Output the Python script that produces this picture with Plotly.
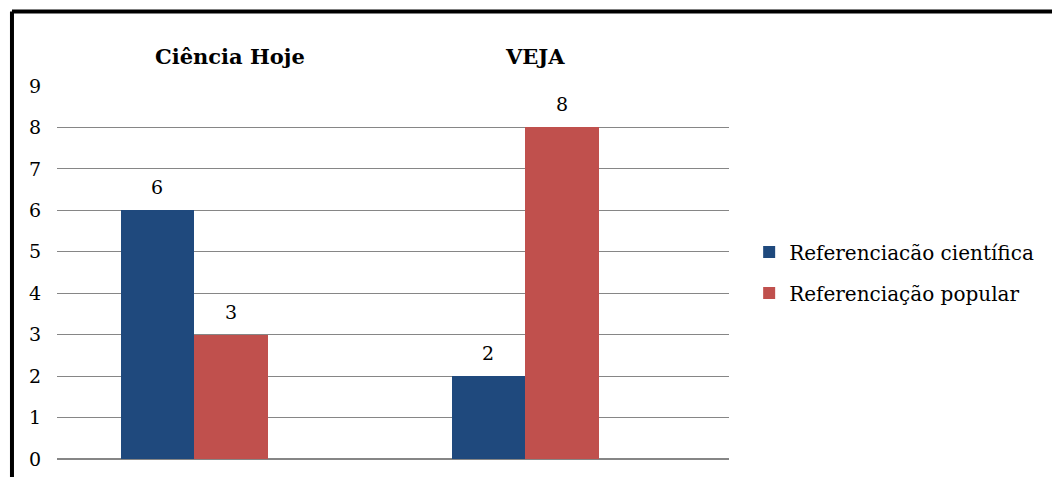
import plotly.graph_objects as go

categories = ["Ciência Hoje", "VEJA"]
series_names = ["Referenciacão científica", "Referenciação popular"]
cientifica = [6, 2]
popular = [3, 8]
y_ticks = [0, 1, 2, 3, 4, 5, 6, 7, 8, 9]

colors = ["#1F497D", "#C0504D"]
FONT = "DejaVu Serif"
bar_w = 0.222
xs = list(range(len(categories)))

fig = go.Figure()
for i, (name, vals, col, off) in enumerate([(series_names[0], cientifica, colors[0], -bar_w),
                                            (series_names[1], popular, colors[1], 0.0)]):
    fig.add_trace(go.Bar(
        x=xs, y=vals, name=name, marker=dict(color=col, line=dict(width=0)),
        width=bar_w, offset=off, legendgroup="g%d" % i,
    ))
    for x, v in zip(xs, vals):
        fig.add_annotation(x=x + off + bar_w / 2, y=v, xref="x", yref="y",
                           text=str(v), showarrow=False, yanchor="middle", xanchor="center",
                           yshift=23, font=dict(family=FONT, size=19, color="black"))

label_shift = [0.11, 0.03]
for x, c, s in zip(xs, categories, label_shift):
    fig.add_annotation(x=x + s, y=1.078, xref="x", yref="paper", text="<b>" + c + "</b>",
                       showarrow=False, yanchor="middle", xanchor="center",
                       font=dict(family=FONT, size=21, color="black"))

# frame lines (top and left border)
fig.add_shape(type="line", xref="paper", yref="paper", x0=-0.067, x1=1.6, y0=1.2, y1=1.2,
              line=dict(color="black", width=4))
fig.add_shape(type="line", xref="paper", yref="paper", x0=-0.067, x1=-0.067, y0=1.2, y1=-0.2,
              line=dict(color="black", width=4))

fig.update_layout(
    template="none",
    width=1052, height=477,
    margin=dict(l=57, r=323, t=86, b=18, autoexpand=False),
    paper_bgcolor="white", plot_bgcolor="white",
    showlegend=True,
    legend=dict(x=1.03, y=0.5, xanchor="left", yanchor="middle",
                font=dict(family=FONT, size=20, color="black"),
                tracegroupgap=12, itemwidth=30, bgcolor="rgba(0,0,0,0)"),
    xaxis=dict(range=[-0.414, 1.616], showticklabels=False, showgrid=False, automargin=False,
               zeroline=False, showline=False, ticks=""),
    yaxis=dict(range=[0, 9], tickvals=y_ticks, showgrid=True, gridcolor="#868686",
               gridwidth=1, zeroline=True, zerolinecolor="#868686", zerolinewidth=2,
               showline=False, ticks="", ticklabelstandoff=15, automargin=False,
               tickfont=dict(family=FONT, size=19, color="black")),
    bargap=0, font=dict(family=FONT),
)

fig.write_html("out.html")
